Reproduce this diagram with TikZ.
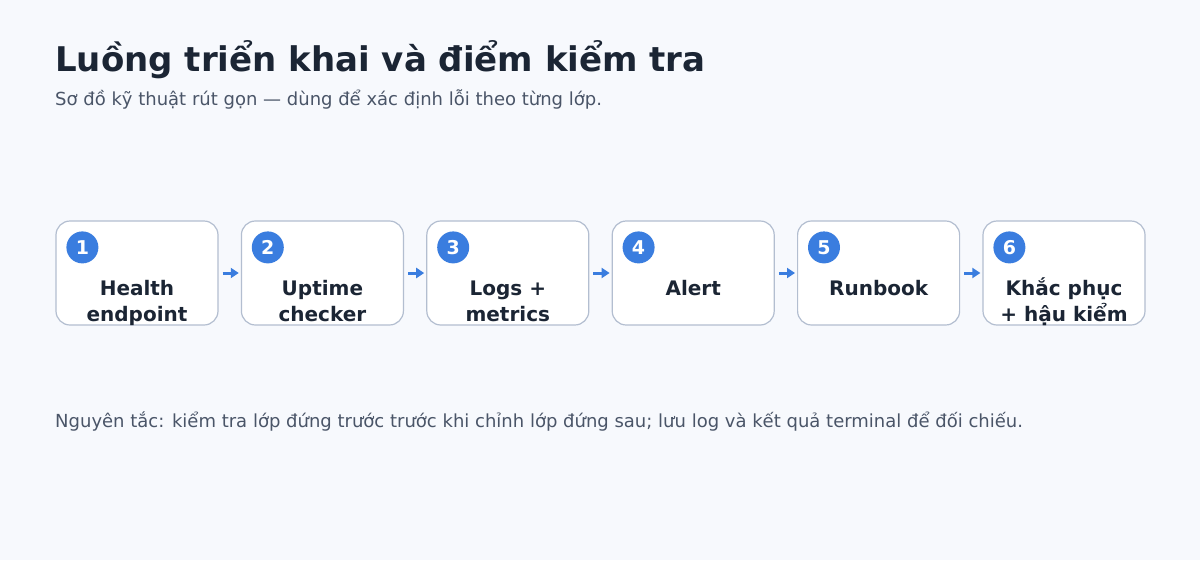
\documentclass[tikz,border=0pt]{standalone}
\usepackage{fontspec}
\setmainfont{DejaVu Sans}
\usetikzlibrary{arrows.meta}

\definecolor{bgpage}{HTML}{F7F9FD}
\definecolor{inktitle}{HTML}{1B2534}
\definecolor{inkgray}{HTML}{4A5568}
\definecolor{boxline}{HTML}{B3BED0}
\definecolor{stepblue}{HTML}{3A7DDF}

\tikzset{
  stagebox/.style={draw=boxline, line width=1.2pt, fill=white, rounded corners=14pt,
    minimum width=162pt, minimum height=104pt, inner sep=0pt},
  stagenum/.style={circle, fill=stepblue, text=white, minimum size=32pt, inner sep=0pt,
    font=\fontsize{19}{19}\selectfont\bfseries},
  stagelabel/.style={text=inktitle, align=center, inner sep=0pt, anchor=base,
    font=\fontsize{20}{26}\selectfont\bfseries},
  flow/.style={draw=stepblue, line width=3pt, -{Triangle[length=8pt,width=10pt]}}
}

\begin{document}
\begin{tikzpicture}[x=1pt, y=-1pt]
\fill[bgpage] (0,0) rectangle (1200,560);
\useasboundingbox (0,0) rectangle (1200,560);

% header
\node[anchor=base west, inner sep=0pt, text=inktitle, font=\fontsize{34}{34}\selectfont\bfseries]
  (title) at (55,71) {Luồng triển khai và điểm kiểm tra};
\node[anchor=base west, inner sep=0pt, text=inkgray, font=\fontsize{18}{18}\selectfont]
  (subtitle) at (55,105) {Sơ đồ kỹ thuật rút gọn — dùng để xác định lỗi theo từng lớp.};

% stages
\node[stagebox] (health) at (137,273) {};
\node[stagebox] (uptime) at (322.4,273) {};
\node[stagebox] (logs) at (507.8,273) {};
\node[stagebox] (alert) at (693.2,273) {};
\node[stagebox] (runbook) at (878.6,273) {};
\node[stagebox] (fix) at (1064,273) {};

\foreach \b/\n in {health/1, uptime/2, logs/3, alert/4, runbook/5, fix/6}
  \node[stagenum] (\b-num) at ([xshift=27pt,yshift=-27pt]\b.north west) {\n};

% two-line labels sit on their last baseline
\node[stagelabel] (health-text) at ([yshift=-48pt]health.center) {Health\\endpoint};
\node[stagelabel] (uptime-text) at ([yshift=-48pt]uptime.center) {Uptime\\checker};
\node[stagelabel] (logs-text) at ([yshift=-48pt]logs.center) {Logs +\\metrics};
\node[stagelabel] (alert-text) at ([yshift=-22pt]alert.center) {Alert};
\node[stagelabel] (runbook-text) at ([yshift=-22pt]runbook.center) {Runbook};
\node[stagelabel] (fix-text) at ([yshift=-48pt]fix.center) {Khắc phục\\+ hậu kiểm};

% connectors
\draw[flow] ([xshift=4pt]health.east) -- ([xshift=-2pt]uptime.west);
\draw[flow] ([xshift=4pt]uptime.east) -- ([xshift=-2pt]logs.west);
\draw[flow] ([xshift=4pt]logs.east) -- ([xshift=-2pt]alert.west);
\draw[flow] ([xshift=4pt]alert.east) -- ([xshift=-2pt]runbook.west);
\draw[flow] ([xshift=4pt]runbook.east) -- ([xshift=-2pt]fix.west);

% footer
\node[anchor=base west, inner sep=0pt, text=inkgray, font=\fontsize{18}{18}\selectfont]
  (rule) at (55,427) {Nguyên tắc: kiểm tra lớp đứng trước trước khi chỉnh lớp đứng sau; lưu log và kết quả terminal để đối chiếu.};
\end{tikzpicture}
\end{document}
